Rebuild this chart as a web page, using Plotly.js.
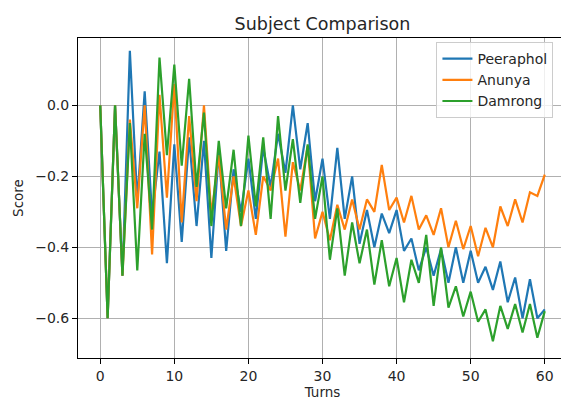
<!DOCTYPE html>
<html>
<head>
<meta charset="utf-8">
<script src="https://cdn.plot.ly/plotly-3.0.1.min.js"></script>
<style>
html,body{margin:0;padding:0;overflow:hidden;background:#fff;}
#chart{width:568px;height:400px;}
</style>
</head>
<body>
<div id="chart"></div>
<script>
const turns = Array.from({length: 61}, (_, i) => i);

const peeraphol = [0.0, -0.6, 0.0, -0.48, 0.154, -0.27, 0.04, -0.31, -0.13, -0.445,
  -0.11, -0.385, -0.09, -0.34, -0.10, -0.43, -0.13, -0.41, -0.18, -0.30,
  -0.15, -0.32, -0.12, -0.23, -0.08, -0.19, 0.0, -0.18, -0.05, -0.27,
  -0.15, -0.32, -0.12, -0.32, -0.20, -0.39, -0.295, -0.40, -0.305, -0.36,
  -0.295, -0.41, -0.375, -0.465, -0.40, -0.48, -0.405, -0.50, -0.40, -0.50,
  -0.41, -0.50, -0.455, -0.52, -0.44, -0.555, -0.485, -0.60, -0.49, -0.60,
  -0.575];

const anunya = [0.0, -0.6, 0.0, -0.48, -0.04, -0.29, 0.0, -0.42, 0.03, -0.26,
  0.06, -0.33, -0.03, -0.27, 0.0, -0.31, -0.14, -0.35, -0.20, -0.34,
  -0.24, -0.365, -0.20, -0.24, -0.15, -0.37, -0.16, -0.24, -0.115, -0.375,
  -0.30, -0.38, -0.28, -0.35, -0.265, -0.35, -0.265, -0.30, -0.168, -0.295,
  -0.26, -0.33, -0.255, -0.35, -0.31, -0.365, -0.29, -0.40, -0.325, -0.405,
  -0.34, -0.425, -0.345, -0.40, -0.285, -0.34, -0.265, -0.33, -0.245, -0.255,
  -0.195];

const damrong = [0.0, -0.6, 0.0, -0.48, -0.05, -0.465, -0.08, -0.35, 0.135, -0.14,
  0.115, -0.17, 0.075, -0.23, -0.02, -0.34, -0.10, -0.29, -0.125, -0.34,
  -0.085, -0.285, -0.09, -0.32, -0.03, -0.24, -0.095, -0.275, -0.11, -0.32,
  -0.20, -0.435, -0.29, -0.48, -0.33, -0.445, -0.35, -0.505, -0.38, -0.51,
  -0.43, -0.555, -0.435, -0.50, -0.365, -0.565, -0.40, -0.57, -0.51, -0.595,
  -0.525, -0.61, -0.575, -0.665, -0.565, -0.63, -0.56, -0.64, -0.56, -0.655,
  -0.58];

const names = ['Peeraphol', 'Anunya', 'Damrong'];
const colors = ['#1f77b4', '#ff7f0e', '#2ca02c'];
const series = [peeraphol, anunya, damrong];

const traces = series.map((s, k) => ({
  x: turns, y: s, type: 'scatter', mode: 'lines', name: names[k],
  line: {color: colors[k], width: 2.2}
}));

const fam = 'DejaVu Sans, sans-serif';
const tickFont = {family: fam, size: 14, color: '#262626'};
const titleFont = {family: fam, size: 13.5, color: '#262626'};

const layout = {
  width: 568, height: 400,
  margin: {l: 78, r: 1, t: 38, b: 42},
  paper_bgcolor: '#fff', plot_bgcolor: '#fff',
  font: tickFont,
  showlegend: true,
  title: {text: 'Subject Comparison', font: {family: fam, size: 17.5, color: '#262626'},
          x: 0.5, xanchor: 'center', xref: 'paper', y: 0.94, yanchor: 'middle'},
  xaxis: {
    range: [-3, 63], tickvals: [0, 10, 20, 30, 40, 50, 60],
    showgrid: true, gridcolor: '#b0b0b0', gridwidth: 1,
    zeroline: false, showline: true, linecolor: '#000', linewidth: 1, mirror: true,
    ticks: 'outside', ticklen: 5, tickcolor: '#000',
    title: {text: 'Turns', font: titleFont, standoff: 10},
    tickfont: tickFont
  },
  yaxis: {
    range: [-0.712, 0.19], tickvals: [-0.6, -0.4, -0.2, 0.0], tickformat: '.1f',
    showgrid: true, gridcolor: '#b0b0b0', gridwidth: 1,
    zeroline: false, showline: true, linecolor: '#000', linewidth: 1, mirror: true,
    ticks: 'outside', ticklen: 5, tickcolor: '#000',
    title: {text: 'Score', font: titleFont, standoff: 8},
    tickfont: tickFont
  },
  legend: {
    x: 0.733, xanchor: 'left', y: 0.9875, yanchor: 'top',
    bgcolor: 'rgba(255,255,255,0.8)', bordercolor: '#cccccc', borderwidth: 1,
    font: {family: fam, size: 14, color: '#262626'}, itemwidth: 30
  }
};

Plotly.newPlot('chart', traces, layout, {displayModeBar: false, staticPlot: true});
</script>
</body>
</html>
